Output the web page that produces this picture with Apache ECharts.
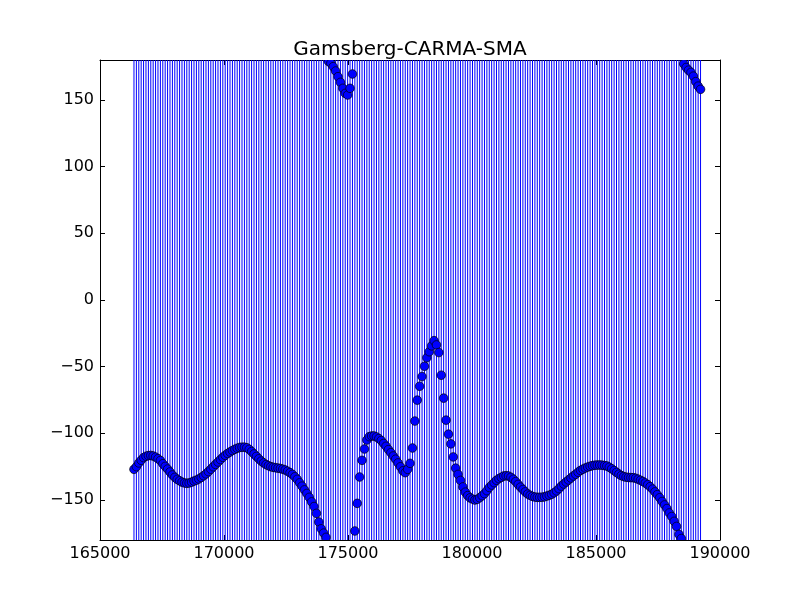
<!DOCTYPE html>
<html><head><meta charset="utf-8">
<script src="https://cdn.jsdelivr.net/npm/echarts@6/dist/echarts.min.js"></script>
<style>html,body{margin:0;padding:0;background:#fff}#c{width:800px;height:600px}</style>
</head><body><div id="c"></div>
<script>
const chartTitle = 'Gamsberg-CARMA-SMA';
const xTicks = [165000, 170000, 175000, 180000, 185000, 190000];
const yTicks = [-150, -100, -50, 0, 50, 100, 150];
const xRange = [165000, 190000];
const yRange = [-180, 180];
const times = [
166370,166467,166564,166660,166757,166854,166951,167048,167144,167241,
167338,167435,167532,167628,167725,167822,167919,168016,168112,168209,
168306,168403,168500,168596,168693,168790,168887,168984,169080,169177,
169274,169371,169468,169564,169661,169758,169855,169952,170048,170145,
170242,170339,170436,170532,170629,170726,170823,170920,171016,171113,
171210,171307,171404,171500,171597,171694,171791,171888,171984,172081,
172178,172275,172372,172468,172565,172662,172759,172856,172952,173049,
173146,173243,173340,173436,173533,173630,173727,173824,173920,174017,
174114,174211,174308,174404,174501,174598,174695,174792,174888,174985,
175082,175179,175276,175372,175469,175566,175663,175760,175856,175953,
176050,176147,176244,176340,176437,176534,176631,176728,176824,176921,
177018,177115,177212,177308,177405,177502,177599,177696,177792,177889,
177986,178083,178180,178276,178373,178470,178567,178664,178760,178857,
178954,179051,179148,179244,179341,179438,179535,179632,179728,179825,
179922,180019,180116,180212,180309,180406,180503,180600,180696,180793,
180890,180987,181084,181180,181277,181374,181471,181568,181664,181761,
181858,181955,182052,182148,182245,182342,182439,182536,182632,182729,
182826,182923,183020,183116,183213,183310,183407,183504,183600,183697,
183794,183891,183988,184084,184181,184278,184375,184472,184568,184665,
184762,184859,184956,185052,185149,185246,185343,185440,185536,185633,
185730,185827,185924,186020,186117,186214,186311,186408,186504,186601,
186698,186795,186892,186988,187085,187182,187279,187376,187472,187569,
187666,187763,187860,187956,188053,188150,188247,188344,188440,188537,
188634,188731,188828,188924,189021,189118,189215
];
const phases = [
-127,-125,-122.2,-120.2,-118.2,-117.2,-116.7,-116.6,-117,-117.8,
-119,-120.4,-122.8,-124.8,-126.8,-129,-131.2,-133,-134.5,-135.6,
-136.6,-137.2,-137.5,-137.2,-136.6,-135.8,-135.1,-134.2,-133.1,-131.8,
-130.4,-128.7,-126.9,-125.1,-123.3,-121.5,-119.7,-118,-116.5,-115.1,
-114,-112.9,-112,-111.2,-110.6,-110.4,-110.4,-110.8,-112,-113.7,
-115.5,-117.3,-119.1,-120.8,-122.2,-123.4,-124.3,-125,-125.5,-125.8,
-126.1,-126.4,-126.9,-127.5,-128.4,-129.5,-130.8,-132.6,-134.5,-137.1,
-139.6,-142.4,-145.1,-148,-151.4,-154.9,-160,-166.5,-171.6,-174.8,
-178,179,177.5,175,171.75,167.5,163.25,158.75,155,153.75,
158.75,169.5,-173.25,-152.5,-132.75,-120.25,-111.75,-105,-102.5,-102,
-102,-102.7,-103.9,-105.4,-107.6,-109.7,-112.2,-114.5,-117,-119.4,
-122.2,-125.1,-128.1,-129.5,-127,-122.5,-111,-90.8,-75.1,-64.7,
-57.4,-49.7,-43.3,-38.8,-34.4,-30.5,-33.7,-39.4,-56.4,-73.6,
-90.1,-100.6,-107.9,-117.7,-126.1,-130.8,-135.3,-140.2,-144.1,-146.7,
-148.4,-149.3,-150,-149.5,-148.3,-146.8,-145.2,-143,-140.6,-138.8,
-137,-135.2,-134,-133,-132,-131.8,-132,-133,-134.4,-136.2,
-138.3,-140.3,-142.1,-143.9,-145.5,-146.5,-147.3,-147.8,-148,-148,
-147.9,-147.6,-147,-146.4,-145.7,-144.6,-143.2,-141.5,-139.6,-138,
-136.5,-135,-133.5,-132,-130.7,-129.2,-127.8,-126.9,-126,-125.3,
-124.7,-124.2,-123.9,-123.8,-123.75,-123.9,-124.2,-124.5,-125.4,-126.6,
-127.9,-129.3,-130.6,-131.7,-132.4,-132.9,-133.1,-133.2,-133.25,-133.7,
-134.4,-135.2,-136.1,-137.2,-138.5,-140,-141.8,-143.9,-146,-148.3,
-151.1,-153.7,-156.4,-159.7,-162.4,-166,-169.8,-175.8,-178.9,177.1,
174.4,172.4,170.7,167.9,163.8,160.4,158
];

const FONT = 'DejaVu Sans';
const data = times.map((t, i) => [t, phases[i]]);
const fmtY = v => (v < 0 ? '\u2212' + Math.abs(v) : String(v));

function axisBase() {
  return {
    axisLine: { show: true, onZero: false, lineStyle: { color: '#000', width: 1 } },
    axisTick: { show: true, inside: true, length: 5, lineStyle: { color: '#000', width: 1 } },
    splitLine: { show: false }
  };
}

const chart = echarts.init(document.getElementById('c'), null, { renderer: 'canvas' });
chart.setOption({
  animation: false,
  backgroundColor: '#fff',
  title: {
    text: chartTitle, left: 405, top: 35, textAlign: 'center',
    textStyle: { fontFamily: FONT, fontSize: 20, fontWeight: 'normal', color: '#000' }
  },
  grid: { left: 100, right: 80, top: 60, bottom: 60, containLabel: false },
  xAxis: [
    Object.assign(axisBase(), {
      type: 'value', position: 'bottom', min: xRange[0], max: xRange[1], interval: 5000,
      axisLabel: { show: true, margin: 6, fontFamily: FONT, fontSize: 16, color: '#000',
        showMinLabel: true, showMaxLabel: true, hideOverlap: false, formatter: v => String(v) }
    }),
    Object.assign(axisBase(), {
      type: 'value', position: 'top', min: xRange[0], max: xRange[1], interval: 5000,
      axisLabel: { show: false }
    })
  ],
  yAxis: [
    Object.assign(axisBase(), {
      type: 'value', position: 'left', min: yRange[0], max: yRange[1],
      axisTick: { show: true, inside: true, length: 5, customValues: yTicks, lineStyle: { color: '#000', width: 1 } },
      axisLabel: { show: true, margin: 6, fontFamily: FONT, fontSize: 16, color: '#000',
        customValues: yTicks, formatter: fmtY }
    }),
    Object.assign(axisBase(), {
      type: 'value', position: 'right', min: yRange[0], max: yRange[1],
      axisTick: { show: true, inside: true, length: 5, customValues: yTicks, lineStyle: { color: '#000', width: 1 } },
      axisLabel: { show: false }
    })
  ],
  series: [
    {
      type: 'custom', name: 'errorbars', xAxisIndex: 0, yAxisIndex: 0, clip: true, silent: true,
      data: data, encode: { x: 0, y: 1 }, z: 1,
      renderItem: function (params, api) {
        const x = api.value(0);
        const p0 = api.coord([x, yRange[0]]);
        const p1 = api.coord([x, yRange[1]]);
        return { type: 'line', shape: { x1: p0[0], y1: p0[1], x2: p1[0], y2: p1[1] },
          style: { stroke: '#0000ff', lineWidth: 1 } };
      }
    },
    {
      type: 'custom', name: 'phase', xAxisIndex: 0, yAxisIndex: 0, clip: true, silent: true,
      data: data, encode: { x: 0, y: 1 }, z: 2,
      renderItem: function (params, api) {
        const c = api.coord([api.value(0), api.value(1)]);
        return { type: 'circle', shape: { cx: c[0], cy: c[1], r: 4.3 },
          style: { fill: '#0000ff', stroke: '#000', lineWidth: 0.7 } };
      }
    }
  ]
});
</script></body></html>
